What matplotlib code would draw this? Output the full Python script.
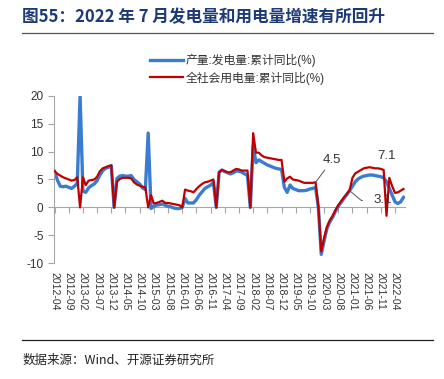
import numpy as np
import pandas as pd
import matplotlib
matplotlib.use('Agg')
import matplotlib.pyplot as plt

plt.rcParams['font.family'] = ['Liberation Sans', 'Noto Sans CJK SC', 'DejaVu Sans']
plt.rcParams['axes.unicode_minus'] = False

# monthly, 2012-04 .. 2022-07
months = pd.period_range('2012-04', '2022-07', freq='M').strftime('%Y-%m').tolist()

gen_yoy = [
    6.4, 4.9, 3.8, 3.7, 3.8, 3.6, 3.4, 3.8, 4.3,
    20.0,
    2.9, 2.7, 3.5, 3.9, 4.2, 4.8, 5.8, 6.6, 7.0, 7.2, 7.5,
    0.0,
    5.2, 5.6, 5.7, 5.6, 5.6, 5.7, 5.0, 4.6, 4.2, 3.5, 3.2,
    13.3,
    -0.2, 0.2, 0.4, 0.5, 0.6, 0.4, 0.2, 0.1, -0.1, -0.2, -0.2,
    0.0,
    1.6, 0.8, 0.8, 0.8, 1.4, 2.2, 2.8, 3.4, 3.7, 4.0, 4.5,
    0.0,
    6.3, 6.7, 6.4, 6.2, 6.0, 6.2, 6.5, 6.5, 6.3, 6.0, 5.7,
    0.0,
    11.0, 8.0, 8.5, 8.2, 7.9, 7.6, 7.4, 7.2, 7.0, 6.9, 6.8,
    3.6, 2.7, 4.0, 3.4, 3.2, 3.0, 3.0, 3.0, 3.1, 3.3, 3.4, 3.6,
    0.0,
    -8.4, -6.0, -3.8, -2.6, -1.8, -0.7, 0.2, 0.9, 1.6, 2.3, 3.0,
    3.8, 4.6, 5.1, 5.4, 5.6, 5.7, 5.8, 5.8, 5.7, 5.6, 5.5, 5.3,
    4.6, 3.4, 2.2, 1.0, 0.7, 1.0, 1.8,
]

use_yoy = [
    6.5, 6.0, 5.7, 5.4, 5.2, 5.0, 4.8, 4.9, 5.4,
    0.0,
    5.4, 4.0, 4.8, 4.9, 5.0, 5.5, 6.5, 7.0, 7.2, 7.4, 7.5,
    0.0,
    4.6, 5.1, 5.3, 5.3, 5.3, 5.2, 4.5, 4.1, 3.9, 3.7, 3.6,
    0.0,
    2.2, 0.7, 0.8, 1.0, 1.2, 0.8, 0.8, 0.7, 0.6, 0.5, 0.4,
    0.0,
    3.2, 3.0, 2.9, 2.7, 3.3, 3.8, 4.2, 4.5, 4.6, 4.8, 5.0,
    0.0,
    6.3, 6.7, 6.5, 6.3, 6.3, 6.6, 6.9, 6.8, 6.6, 6.6, 6.6,
    0.0,
    13.3, 9.8, 9.8, 9.3, 9.0, 8.9, 8.8, 8.7, 8.6, 8.5, 8.5,
    4.6, 5.2, 5.5, 5.0, 4.9, 4.8, 4.6, 4.4, 4.4, 4.4, 4.4, 4.5,
    0.0,
    -7.9, -5.5, -3.5, -2.3, -1.5, -0.5, 0.4, 1.1, 1.8, 2.4, 3.1,
    5.3, 6.1, 6.4, 6.7, 7.0, 7.1, 7.2, 7.1, 7.0, 7.0, 6.9, 6.7,
    -1.5, 5.3, 3.8, 2.6, 2.7, 3.0, 3.3,
]

blue = '#3a7cd0'
red = '#c00000'
grey = '#a6a6a6'
text_c = '#333333'

x = np.arange(len(months))

fig = plt.figure(figsize=(4.44, 3.79), dpi=100)
ax = fig.add_axes([0.1216, 0.3053, 0.7904, 0.4422])

ax.plot(x, gen_yoy, color=blue, lw=2.4, label='产量:发电量:累计同比(%)', zorder=2)
ax.plot(x, use_yoy, color=red, lw=1.6, label='全社会用电量:累计同比(%)', zorder=3)

ax.set_ylim(-10, 20)
ax.set_xlim(-0.2, len(months) - 0.5)
ax.set_yticks(range(-10, 21, 5))
ax.tick_params(axis='y', colors=grey, labelcolor=text_c, labelsize=8.5, length=4, width=0.8)

xt = x[::5]
ax.set_xticks(xt)
ax.set_xticklabels([months[i] for i in xt], rotation=270, fontsize=7.6, color=text_c)
ax.tick_params(axis='x', length=0, pad=6)

for s in ['top', 'right', 'bottom']:
    ax.spines[s].set_visible(False)
ax.spines['left'].set_color(grey)
ax.spines['left'].set_linewidth(0.8)

# zero line with ticks
sec = ax.secondary_xaxis(1 / 3)
sec.set_xticks(xt)
sec.set_xticklabels([])
sec.tick_params(axis='x', colors=grey, length=4, width=0.8)
sec.spines['bottom'].set_color(grey)
sec.spines['bottom'].set_linewidth(0.8)

# callouts
i45 = months.index('2019-12')
ax.annotate('4.5', xy=(i45, use_yoy[i45]), xytext=(12, 16), textcoords='offset points',
            ha='center', va='center', fontsize=9.5, color=text_c,
            arrowprops=dict(arrowstyle='-', color='#555555', lw=0.7, shrinkA=1, shrinkB=0))
i31 = months.index('2020-12')
ax.annotate('3.1', xy=(i31, gen_yoy[i31]), xytext=(24, -7), textcoords='offset points',
            ha='center', va='center', fontsize=9.5, color=text_c,
            arrowprops=dict(arrowstyle='-', color='#555555', lw=0.7, shrinkA=6, shrinkB=0,
                            connectionstyle='angle,angleA=0,angleB=-40,rad=0'))
i71 = months.index('2021-12')
ax.annotate('7.1', xy=(i71, use_yoy[i71]), xytext=(2, 10), textcoords='offset points',
            ha='center', va='center', fontsize=9.5, color=text_c)

fig.legend(loc='upper left', bbox_to_anchor=(0.338, 0.858), frameon=False,
           fontsize=8.5, handlelength=2.8, handletextpad=0.25, labelspacing=0.35,
           borderpad=0, borderaxespad=0, labelcolor=text_c)

fig.text(0.05, 0.955, '图55：2022 年 7 月发电量和用电量增速有所回升', fontsize=12,
         fontweight='bold', color='#1c3a78', family=['Noto Sans CJK SC'], va='center')
fig.add_artist(plt.Line2D([0.05, 0.975], [0.913, 0.913], color='#555555', lw=0.9))
fig.add_artist(plt.Line2D([0.05, 0.975], [0.103, 0.103], color='#222222', lw=0.9))
fig.text(0.05, 0.05, '数据来源：Wind、开源证券研究所', fontsize=9, color='#222222',
         family=['Noto Sans CJK SC', 'Liberation Serif'], va='center')

fig.savefig('out.png', dpi=100)
